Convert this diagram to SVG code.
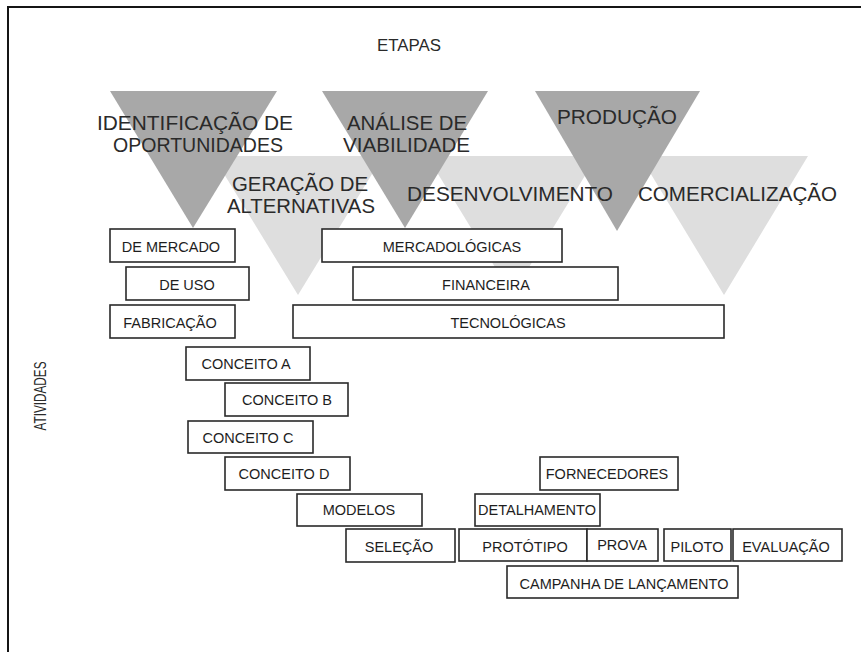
<svg xmlns="http://www.w3.org/2000/svg" width="861" height="652" viewBox="0 0 861 652">
  <style>
    .frame { stroke: #151515; stroke-width: 2; fill: none; }
    .tri-dark { fill: #a8a8a8; }
    .tri-light { fill: #dedede; }
    .stage { font-family: "Liberation Sans", Arial, sans-serif; font-size: 21px; fill: #2a2a2a; text-anchor: middle; }
    .title { font-family: "Liberation Sans", Arial, sans-serif; font-size: 16px; fill: #2a2a2a; text-anchor: middle; }
    .box rect { fill: #ffffff; stroke: #2a2a2a; stroke-width: 1.6; }
    .box text { font-family: "Liberation Sans", Arial, sans-serif; font-size: 14.5px; fill: #1e1e1e; text-anchor: middle; }
  </style>

  <rect x="0" y="0" width="861" height="652" fill="#ffffff"/>

  <!-- page frame: top and left rules -->
  <g id="frame">
    <line class="frame" x1="8" y1="7" x2="861" y2="7"/>
    <line class="frame" x1="8" y1="6" x2="8" y2="652"/>
  </g>

  <!-- axis captions -->
  <text id="etapas" class="title" x="409" y="51" textLength="64" lengthAdjust="spacingAndGlyphs">ETAPAS</text>
  <text id="atividades" class="title" transform="translate(46 396) rotate(-90)" x="0" y="0" textLength="69" lengthAdjust="spacingAndGlyphs">ATIVIDADES</text>

  <!-- stage funnels: light row sits behind the dark row -->
  <g id="stage-geracao"><polygon class="tri-light" points="213,156 383,156 298,295"/></g>
  <g id="stage-desenvolvimento"><polygon class="tri-light" points="427,156 597,156 512,295"/></g>
  <g id="stage-comercializacao"><polygon class="tri-light" points="640,156 808,156 724,295"/></g>
  <g id="stage-identificacao"><polygon class="tri-dark" points="110,91 277,91 193,228"/></g>
  <g id="stage-analise"><polygon class="tri-dark" points="322,91 488,91 405,228"/></g>
  <g id="stage-producao"><polygon class="tri-dark" points="535,91 700,91 617,231"/></g>

  <!-- stage names -->
  <g id="stage-labels">
    <text class="stage" x="195" y="129.5" textLength="196" lengthAdjust="spacingAndGlyphs">IDENTIFICAÇÃO DE</text>
    <text class="stage" x="198" y="151.5" textLength="170" lengthAdjust="spacingAndGlyphs">OPORTUNIDADES</text>
    <text class="stage" x="407" y="129.5" textLength="120" lengthAdjust="spacingAndGlyphs">ANÁLISE DE</text>
    <text class="stage" x="406.5" y="151.5" textLength="127" lengthAdjust="spacingAndGlyphs">VIABILIDADE</text>
    <text class="stage" x="617" y="124" textLength="120" lengthAdjust="spacingAndGlyphs">PRODUÇÃO</text>
    <text class="stage" x="300" y="190.5" textLength="136" lengthAdjust="spacingAndGlyphs">GERAÇÃO DE</text>
    <text class="stage" x="301" y="212.5" textLength="148" lengthAdjust="spacingAndGlyphs">ALTERNATIVAS</text>
    <text class="stage" x="510" y="200.5" textLength="206" lengthAdjust="spacingAndGlyphs">DESENVOLVIMENTO</text>
    <text class="stage" x="737.5" y="200.5" textLength="199" lengthAdjust="spacingAndGlyphs">COMERCIALIZAÇÃO</text>
  </g>

  <!-- activity bars -->
  <g id="act-de-mercado" class="box"><rect x="110" y="229" width="125" height="33"/><text x="171" y="252">DE MERCADO</text></g>
  <g id="act-de-uso" class="box"><rect x="126" y="267" width="123" height="33"/><text x="187" y="290">DE USO</text></g>
  <g id="act-fabricacao" class="box"><rect x="110" y="305" width="125" height="33"/><text x="170" y="328">FABRICAÇÃO</text></g>
  <g id="act-conceito-a" class="box"><rect x="186" y="347" width="124" height="33"/><text x="246" y="369">CONCEITO A</text></g>
  <g id="act-conceito-b" class="box"><rect x="225" y="383" width="123" height="33"/><text x="287" y="405">CONCEITO B</text></g>
  <g id="act-conceito-c" class="box"><rect x="188" y="421" width="125" height="32"/><text x="248" y="443">CONCEITO C</text></g>
  <g id="act-conceito-d" class="box"><rect x="225" y="457" width="125" height="33"/><text x="284" y="479">CONCEITO D</text></g>
  <g id="act-modelos" class="box"><rect x="297" y="494" width="125" height="32"/><text x="359" y="515">MODELOS</text></g>
  <g id="act-selecao" class="box"><rect x="346" y="529" width="109" height="33"/><text x="399" y="552">SELEÇÃO</text></g>
  <g id="act-mercadologicas" class="box"><rect x="322" y="229" width="240" height="33"/><text x="452" y="252">MERCADOLÓGICAS</text></g>
  <g id="act-financeira" class="box"><rect x="353" y="267" width="265" height="33"/><text x="486" y="290">FINANCEIRA</text></g>
  <g id="act-tecnologicas" class="box"><rect x="293" y="305" width="431" height="33"/><text x="508" y="328">TECNOLÓGICAS</text></g>
  <g id="act-fornecedores" class="box"><rect x="540" y="457" width="138" height="33"/><text x="607" y="479">FORNECEDORES</text></g>
  <g id="act-detalhamento" class="box"><rect x="475" y="494" width="125" height="32"/><text x="537" y="515">DETALHAMENTO</text></g>
  <g id="act-prototipo" class="box"><rect x="459" y="529" width="128" height="32"/><text x="525" y="552">PROTÓTIPO</text></g>
  <g id="act-prova" class="box"><rect x="587" y="529" width="71" height="32"/><text x="622" y="550">PROVA</text></g>
  <g id="act-piloto" class="box"><rect x="664" y="529" width="67" height="32"/><text x="697" y="552">PILOTO</text></g>
  <g id="act-evaluacao" class="box"><rect x="733" y="529" width="109" height="32"/><text x="786" y="552">EVALUAÇÃO</text></g>
  <g id="act-campanha" class="box"><rect x="507" y="566" width="231" height="32"/><text x="624" y="589">CAMPANHA DE LANÇAMENTO</text></g>
</svg>
